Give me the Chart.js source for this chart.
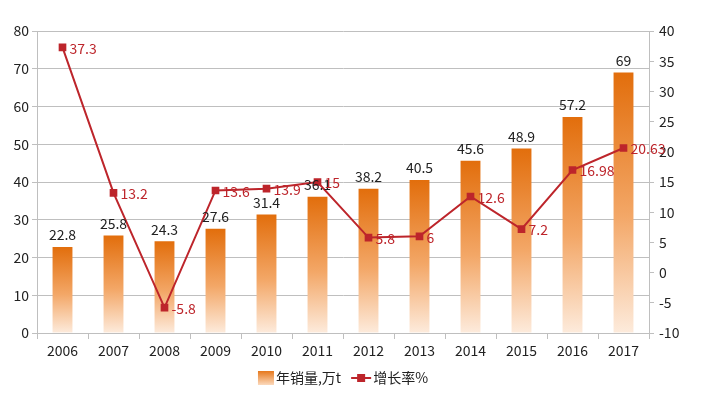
<!DOCTYPE html>
<html>
<head>
<meta charset="utf-8">
<script src="https://cdn.jsdelivr.net/npm/chart.js@4/dist/chart.umd.min.js"></script>
<style>
  html, body { margin: 0; padding: 0; background: #fff; }
  #wrap { width: 702px; height: 393px; }
</style>
</head>
<body>
<div id="wrap"><canvas id="salesChart"></canvas></div>
<script>
// ---- data ----
const years = ["2006", "2007", "2008", "2009", "2010", "2011", "2012", "2013", "2014", "2015", "2016", "2017"];
const sales = [22.8, 25.8, 24.3, 27.6, 31.4, 36.1, 38.2, 40.5, 45.6, 48.9, 57.2, 69];
const growth = [37.3, 13.2, -5.8, 13.6, 13.9, 15, 5.8, 6, 12.6, 7.2, 16.98, 20.63];
const salesLabel = "年销量,万t";
const growthLabel = "增长率%";

const FONT = "'Noto Sans CJK SC', 'Noto Sans', sans-serif";
const RED = "#BD252B";
const GRID = "#bfbfbf";

// vertical gradient per bar, dark on top
function barGradient(ctx) {
  const chart = ctx.chart;
  if (!chart.chartArea || ctx.raw === undefined) return "#E8781A";
  const y = chart.scales.y;
  const top = y.getPixelForValue(ctx.raw);
  const bottom = y.getPixelForValue(0);
  const g = chart.ctx.createLinearGradient(0, top, 0, bottom);
  g.addColorStop(0, "#E26E0C");
  g.addColorStop(0.55, "#F3A767");
  g.addColorStop(1, "#FDEBDC");
  return g;
}

// value labels on bars and line points
const valueLabels = {
  id: "valueLabels",
  afterDatasetsDraw(chart) {
    const c = chart.ctx;
    c.save();
    c.font = "14px " + FONT;
    c.textBaseline = "middle";
    // dataset 1 = bars
    chart.getDatasetMeta(1).data.forEach((bar, i) => {
      c.fillStyle = "#222";
      c.textAlign = "center";
      c.fillText(String(sales[i]), bar.x, bar.y - 12);
    });
    // dataset 0 = growth line
    chart.getDatasetMeta(0).data.forEach((pt, i) => {
      c.fillStyle = RED;
      c.textAlign = "left";
      c.fillText(String(growth[i]), pt.x + 7, pt.y + 1);
    });
    c.restore();
  }
};

// legend at bottom, centred under the plot
const bottomLegend = {
  id: "bottomLegend",
  afterDraw(chart) {
    const c = chart.ctx;
    const cy = 378;
    c.save();
    c.font = "14px " + FONT;
    c.textBaseline = "middle";
    c.textAlign = "left";
    const w1 = c.measureText(salesLabel).width;
    const w2 = c.measureText(growthLabel).width;
    const total = 16 + 2 + w1 + 10 + 20 + 2 + w2;
    let x = 343 - total / 2;

    const g = c.createLinearGradient(0, cy - 7, 0, cy + 7);
    g.addColorStop(0, "#E6781C");
    g.addColorStop(1, "#FBD9BC");
    c.fillStyle = g;
    c.fillRect(x, cy - 7, 16, 14);
    x += 18;
    c.fillStyle = "#222";
    c.fillText(salesLabel, x, cy);
    x += w1 + 10;

    c.strokeStyle = RED;
    c.lineWidth = 2;
    c.beginPath();
    c.moveTo(x, cy);
    c.lineTo(x + 20, cy);
    c.stroke();
    c.fillStyle = RED;
    c.fillRect(x + 6, cy - 4, 8, 8);
    x += 22;
    c.fillStyle = "#222";
    c.fillText(growthLabel, x, cy);
    c.restore();
  }
};

new Chart(document.getElementById("salesChart"), {
  data: {
    labels: years,
    datasets: [
      {
        type: "line",
        label: growthLabel,
        data: growth,
        yAxisID: "y1",
        borderColor: RED,
        borderWidth: 2,
        backgroundColor: RED,
        pointStyle: "rect",
        pointRadius: 4,
        pointBackgroundColor: RED,
        pointBorderColor: RED,
        order: 0
      },
      {
        type: "bar",
        label: salesLabel,
        data: sales,
        yAxisID: "y",
        backgroundColor: barGradient,
        barPercentage: 0.78,
        categoryPercentage: 0.5,
        order: 1
      }
    ]
  },
  options: {
    responsive: true,
    maintainAspectRatio: false,
    animation: false,
    layout: { padding: { top: 31, left: 0, right: 0, bottom: 30 } },
    plugins: {
      legend: { display: false },
      tooltip: { enabled: false }
    },
    scales: {
      x: {
        grid: { drawOnChartArea: false, drawTicks: true, tickLength: 6, offset: true, color: GRID },
        border: { color: GRID },
        ticks: { color: "#222", font: { size: 14, family: FONT }, padding: 3, maxRotation: 0 },
        afterFit(s) { s.height = 30; }
      },
      y: {
        position: "left",
        min: 0, max: 80,
        ticks: { stepSize: 10, color: "#222", font: { size: 14, family: FONT }, padding: 3 },
        grid: { color: GRID, tickLength: 5 },
        border: { color: GRID },
        afterFit(s) { s.width = 37; }
      },
      y1: {
        position: "right",
        min: -10, max: 40,
        ticks: { stepSize: 5, color: "#222", font: { size: 14, family: FONT }, padding: 5 },
        grid: { drawOnChartArea: false, color: GRID, tickLength: 5 },
        border: { color: GRID },
        afterFit(s) { s.width = 53; }
      }
    }
  },
  plugins: [valueLabels, bottomLegend]
});
</script>
</body>
</html>
